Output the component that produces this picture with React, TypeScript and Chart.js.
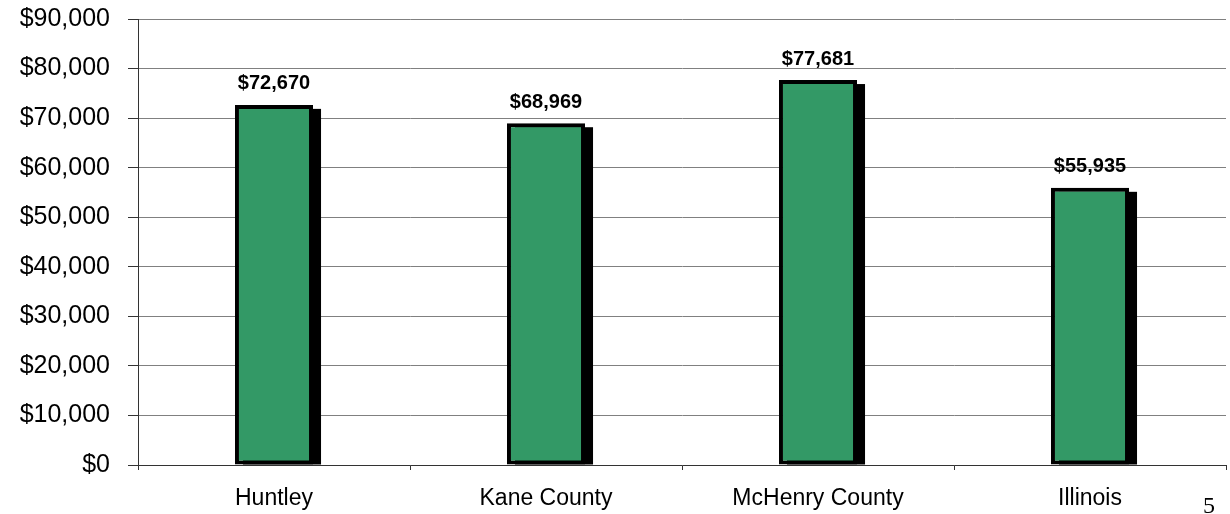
import React, { useEffect, useRef } from "react";
import { Chart, registerables } from "chart.js";

Chart.register(...registerables);

const categories = ["Huntley", "Kane County", "McHenry County", "Illinois"];
const incomeValues = [72670, 68969, 77681, 55935];
const yTickMax = 90000;
const yTickStep = 10000;
const pageNumber = "5";

const fmt = (v: number) => "$" + v.toLocaleString("en-US");

const shadowPlugin = {
  id: "barShadow",
  beforeDatasetsDraw(chart: any) {
    const ctx = chart.ctx;
    const meta = chart.getDatasetMeta(0);
    ctx.save();
    ctx.fillStyle = "#000000";
    meta.data.forEach((el: any) => {
      const { x, y, base, width } = el.getProps(["x", "y", "base", "width"], true);
      const dx = 8;
      const dy = 4;
      ctx.fillRect(x - width / 2 + dx, y + dy, width, base - y - dy);
    });
    ctx.restore();
  },
};

const labelPlugin = {
  id: "barLabels",
  afterDatasetsDraw(chart: any) {
    const ctx = chart.ctx;
    const meta = chart.getDatasetMeta(0);
    const values = chart.data.datasets[0].data as number[];
    ctx.save();
    ctx.fillStyle = "#000000";
    ctx.font = "bold 20px 'Liberation Sans', Arial, sans-serif";
    ctx.textAlign = "center";
    ctx.textBaseline = "middle";
    meta.data.forEach((el: any, i: number) => {
      const { x, y } = el.getProps(["x", "y"], true);
      ctx.fillText(fmt(values[i]), x, y - 21);
    });
    ctx.restore();
  },
};

export default function App() {
  const canvasRef = useRef<HTMLCanvasElement | null>(null);

  useEffect(() => {
    if (!canvasRef.current) return;
    const chart = new Chart(canvasRef.current, {
      type: "bar",
      data: {
        labels: categories,
        datasets: [
          {
            data: incomeValues,
            backgroundColor: "#339966",
            borderColor: "#000000",
            borderWidth: 4,
            borderSkipped: false,
            categoryPercentage: 1,
            barPercentage: 0.287,
          },
        ],
      },
      options: {
        animation: false,
        responsive: true,
        maintainAspectRatio: false,
        layout: { padding: { top: 19, right: 4, left: 0, bottom: 0 } },
        plugins: {
          legend: { display: false },
          tooltip: { enabled: false },
        },
        scales: {
          x: {
            afterFit: (scale: any) => {
              scale.height = 49;
              scale.paddingLeft = 0;
              scale.paddingRight = 0;
            },
            grid: {
              offset: true,
              drawOnChartArea: false,
              drawTicks: true,
              tickLength: 5,
              tickColor: "#333333",
            },
            border: { display: true, color: "#333333", width: 1 },
            ticks: {
              color: "#000000",
              padding: 15,
              font: { family: "'Liberation Sans', Arial, sans-serif", size: 23 },
              maxRotation: 0,
            },
          },
          y: {
            min: 0,
            max: yTickMax,
            afterFit: (scale: any) => {
              scale.width = 138;
              scale.paddingTop = 0;
              scale.paddingBottom = 0;
            },
            grid: {
              color: "#808080",
              tickColor: "#333333",
              tickLength: 10,
              lineWidth: 1,
            },
            border: { display: true, color: "#333333", width: 1 },
            ticks: {
              stepSize: yTickStep,
              color: "#000000",
              padding: 18,
              font: { family: "'Liberation Sans', Arial, sans-serif", size: 25 },
              callback: (v: any) => fmt(Number(v)),
            },
          },
        },
      },
      plugins: [shadowPlugin, labelPlugin],
    });
    return () => chart.destroy();
  }, []);

  return (
    <div
      style={{
        position: "absolute",
        left: 0,
        top: 0,
        width: 1230,
        height: 514,
        background: "#ffffff",
        overflow: "hidden",
      }}
    >
      <div style={{ position: "absolute", left: 0, top: 0, width: 1230, height: 514 }}>
        <canvas ref={canvasRef} />
      </div>
      <div
        style={{
          position: "absolute",
          left: 1203,
          top: 492,
          fontFamily: "'Liberation Serif', 'Times New Roman', serif",
          fontSize: 24,
          lineHeight: "normal",
          color: "#000000",
        }}
      >
        {pageNumber}
      </div>
    </div>
  );
}
